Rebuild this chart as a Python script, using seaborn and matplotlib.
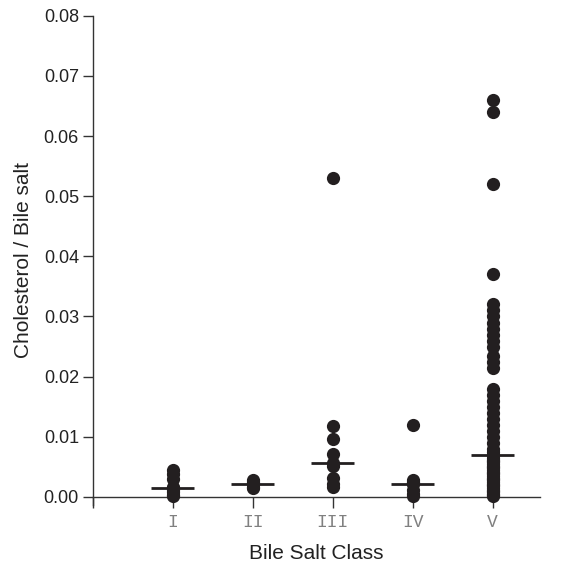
import numpy as np
import pandas as pd
import matplotlib
matplotlib.use("Agg")
import matplotlib.pyplot as plt
import seaborn as sns

# values
classes = ["I", "II", "III", "IV", "V"]
class_i = [0.0045, 0.0038, 0.003, 0.0017, 0.0015, 0.0012, 0.0008, 0.0003, 0.0001]
class_ii = [0.0028, 0.0024, 0.0021, 0.0017, 0.0015]
class_iii = [0.053, 0.0118, 0.0097, 0.0072, 0.0057, 0.0052, 0.0032, 0.0022, 0.0017]
class_iv = [0.012, 0.0028, 0.0025, 0.0023, 0.0021, 0.0012, 0.0005, 0.0001]
class_v = [0.066, 0.064, 0.052, 0.037, 0.032, 0.031, 0.030, 0.029, 0.028,
           0.027, 0.026, 0.025, 0.0235, 0.0225, 0.0215, 0.018, 0.017, 0.016,
           0.015, 0.014, 0.013, 0.012, 0.011, 0.010, 0.009, 0.008, 0.0075,
           0.007, 0.0065, 0.0062, 0.006, 0.0058, 0.0055, 0.0052, 0.005,
           0.0048, 0.0045, 0.0042, 0.004, 0.0038, 0.0035, 0.0032, 0.003,
           0.0028, 0.0025, 0.0022, 0.002, 0.0018, 0.0015, 0.0012, 0.001,
           0.0008, 0.0005, 0.0003, 0.0001]

groups = [class_i, class_ii, class_iii, class_iv, class_v]
df = pd.DataFrame({
    "cls": np.concatenate([[c] * len(g) for c, g in zip(classes, groups)]),
    "ratio": np.concatenate(groups),
})

sns.set_theme(style="white")
plt.rcParams["font.family"] = ["Liberation Sans", "DejaVu Sans"]

fig = plt.figure(figsize=(5.66, 5.66), dpi=100)
ax = fig.add_axes([0.164, 0.108, 0.79, 0.864])

order = [""] + classes
dot = "#231f20"
sns.stripplot(data=df, x="cls", y="ratio", order=order, jitter=False,
              color=dot, size=9.5, linewidth=0, ax=ax, clip_on=False, zorder=3)

# median bars
for i, g in enumerate(groups, start=1):
    ax.hlines(np.median(g), i - 0.27, i + 0.27, color=dot, lw=2, zorder=4)

ax.set_xlim(0, 5.59)
ax.set_ylim(-0.00133, 0.08)
ax.set_yticks(np.arange(0, 0.081, 0.01))
ax.set_yticklabels([f"{v:.2f}" for v in np.arange(0, 0.081, 0.01)])

ax.spines["top"].set_visible(False)
ax.spines["right"].set_visible(False)
ax.spines["bottom"].set_position(("data", 0))
for s in ("left", "bottom"):
    ax.spines[s].set_color("#333333")
    ax.spines[s].set_linewidth(1.0)

ax.tick_params(axis="y", direction="out", length=7, width=1, color="#333333",
               labelsize=13, labelcolor="#222222", left=True, pad=3)
ax.tick_params(axis="x", direction="out", length=8, width=1, color="#333333",
               bottom=True, pad=4)
for lab in ax.get_xticklabels():
    lab.set_family(["Liberation Mono", "DejaVu Sans Mono"])
    lab.set_fontsize(13)
    lab.set_color("#808080")

ax.set_xlabel("Bile Salt Class", fontsize=15, color="#222222", labelpad=10)
ax.set_ylabel("Cholesterol / Bile salt", fontsize=15, color="#222222", labelpad=8)
ax.grid(False)

fig.savefig("out.png", dpi=100)
